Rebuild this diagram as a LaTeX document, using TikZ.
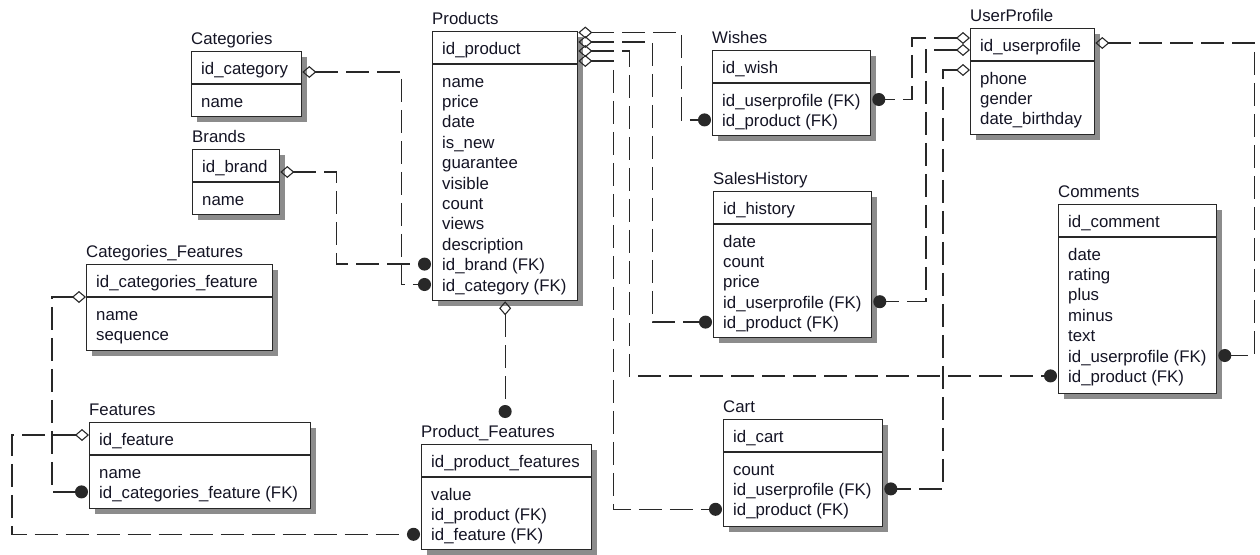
\documentclass[tikz,border=0pt]{standalone}
\usepackage{fontspec}
\setmainfont{Liberation Sans}
\usetikzlibrary{arrows.meta,shadows}

\definecolor{ink}{RGB}{20,20,36}
\definecolor{wire}{RGB}{40,40,40}
\definecolor{shadowgray}{RGB}{140,140,140}
\newcommand\erfont{\fontsize{16.8}{20.4}\selectfont}

\tikzset{
  ebox/.style={rectangle, draw=wire, line width=1.3pt, fill=white, anchor=north west, inner sep=0pt,
    drop shadow={shadow xshift=5pt, shadow yshift=-5pt, fill=shadowgray, opacity=1}},
  etitle/.style={anchor=base west, inner sep=0pt, text=ink, font=\erfont},
  erow/.style={anchor=base west, inner sep=0pt, text=ink, font=\erfont},
  sepline/.style={draw=wire, line width=1.3pt},
  rel/.style={draw=wire, line width=1.3pt, dash pattern=on 23pt off 8pt,
    {Diamond[open,length=14pt,width=12pt,line width=1.1pt]}-{Circle[length=13pt]}, shorten >=1pt},
}

% \erentity{name}{left}{top}{right}{bottom}{title}{key}{attributes}
\newcommand\erentity[8]{%
  \node[ebox, minimum width={#4-#2}, minimum height={#5-#3}] (#1) at ({#2},{#3}) {};
  \node[etitle] (#1-t) at ({#2},{#3-7}) {#6};
  \node[erow] (#1-k) at ({#2+10},{#3+23}) {#7};
  \draw[sepline] ([yshift=-33pt]#1.north west) -- ([yshift=-33pt]#1.north east);
  \foreach \ename [count=\i] in {#8} {
    \node[erow] (#1-\i) at ({#2+10},{#3+56+(\i-1)*20.4}) {\ename};
    \coordinate (#1-\i-m) at ({#2},{#3+56+(\i-1)*20.4-6.5});
  }%
}

\begin{document}
\begin{tikzpicture}[x=1pt,y=-1pt]
\useasboundingbox (0,0) rectangle (1260,554);

% tables
\erentity{cat}{191}{51}{301}{116}{Categories}{id\_category}{name}
\erentity{brand}{192}{149}{279}{214}{Brands}{id\_brand}{name}
\erentity{prod}{432}{31}{577}{300}{Products}{id\_product}{name,price,date,is\_new,guarantee,visible,count,views,description,id\_brand (FK),id\_category (FK)}
\erentity{wish}{712}{50}{870}{135}{Wishes}{id\_wish}{id\_userprofile (FK),id\_product (FK)}
\erentity{user}{970}{28}{1094}{134}{UserProfile}{id\_userprofile}{phone,gender,date\_birthday}
\erentity{sale}{713}{191}{871}{337}{SalesHistory}{id\_history}{date,count,price,id\_userprofile (FK),id\_product (FK)}
\erentity{comm}{1058}{204}{1216}{393}{Comments}{id\_comment}{date,rating,plus,minus,text,id\_userprofile (FK),id\_product (FK)}
\erentity{cart}{723}{419}{882}{526}{Cart}{id\_cart}{count,id\_userprofile (FK),id\_product (FK)}
\erentity{cf}{86}{264}{272}{350}{Categories\_Features}{id\_categories\_feature}{name,sequence}
\erentity{feat}{89}{422}{310}{508}{Features}{id\_feature}{name,id\_categories\_feature (FK)}
\erentity{pf}{421}{444}{591}{549}{Product\_Features}{id\_product\_features}{value,id\_product (FK),id\_feature (FK)}

\coordinate (pf-in) at ([yshift=25pt]pf.north);

% relationships: open diamond at the parent key, dot at the foreign key
\draw[rel] ([yshift=-21pt]cat.north east) -- ++(99,0) |- (prod.west |- prod-11-m);
\draw[rel] ([yshift=-23pt]brand.north east) -- ++(56,0) |- (prod.west |- prod-10-m);
\draw[rel] ([yshift=-1.5pt]prod.north east) -- ++(103,0) |- (wish.west |- wish-2-m);
\draw[rel] ([yshift=-11pt]prod.north east) -- ++(74,0) |- (sale.west |- sale-5-m);
\draw[rel] ([yshift=-20pt]prod.north east) -- ++(51,0) |- (comm.west |- comm-7-m);
\draw[rel] ([yshift=-30pt]prod.north east) -- ++(35,0) |- (cart.west |- cart-3-m);
\draw[rel] (prod.south) -- (prod.south |- pf-in);
\draw[rel] ([yshift=-10pt]user.north west) -- ++(-58,0) |- (wish.east |- wish-1-m);
\draw[rel] ([yshift=-22pt]user.north west) -- ++(-44,0) |- (sale.east |- sale-4-m);
\draw[rel] ([yshift=-42pt]user.north west) -- ++(-27,0) |- (cart.east |- cart-2-m);
\draw[rel] ([yshift=-15pt]user.north east) -- ++(159,0) |- (comm.east |- comm-6-m);
\draw[rel] ([yshift=-33pt]cf.north west) -- ++(-34,0) |- (feat.west |- feat-2-m);
\draw[rel] ([yshift=-13pt]feat.north west) -- ++(-77,0) |- (pf.west |- pf-3-m);
\end{tikzpicture}
\end{document}
